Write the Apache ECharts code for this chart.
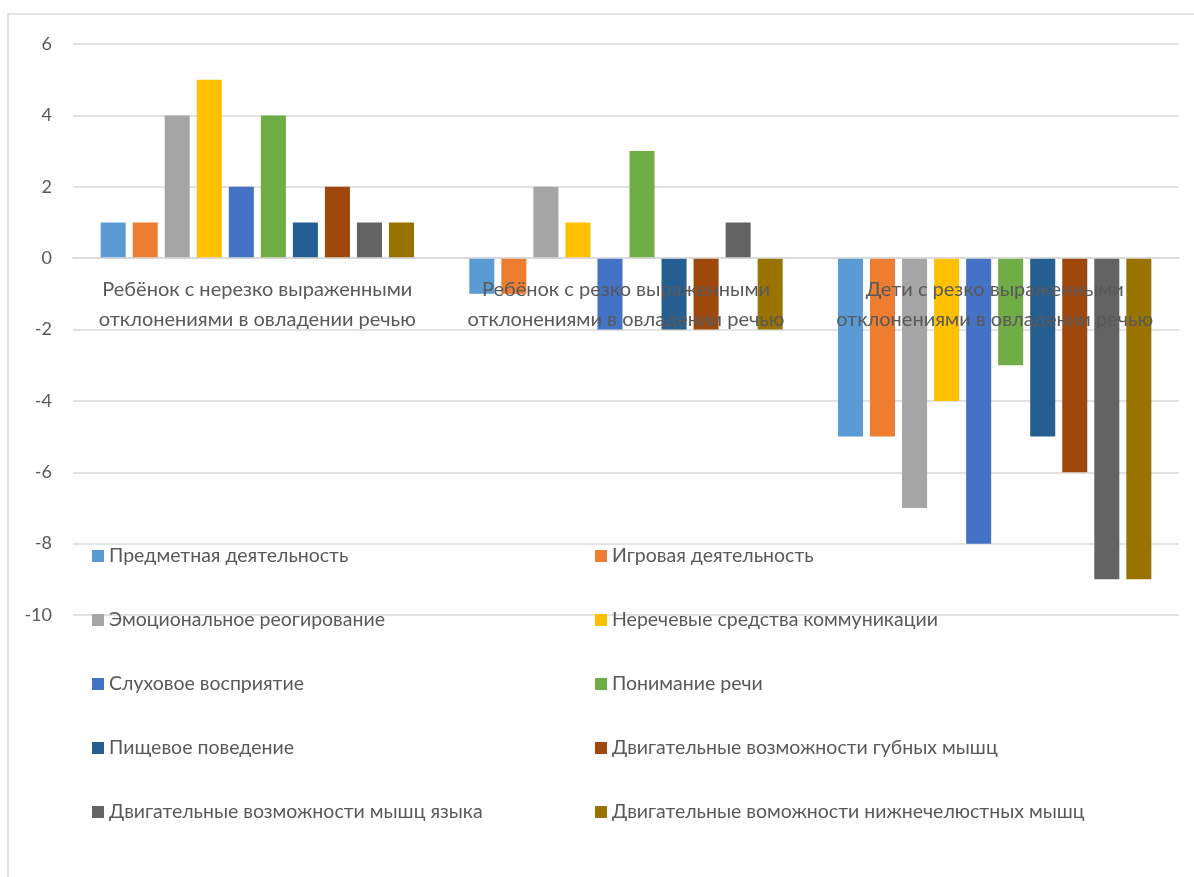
<!DOCTYPE html>
<html>
<head>
<meta charset="utf-8">
<script src="https://cdn.jsdelivr.net/npm/echarts@6/dist/echarts.min.js"></script>
<style>
  html, body { margin: 0; padding: 0; background: #fff; }
  #chart { width: 1194px; height: 877px; }
</style>
</head>
<body>
<div id="chart"></div>
<script>
const categories = [
  'Ребёнок с нерезко выраженными\nотклонениями в овладении речью',
  'Ребёнок с резко выраженными\nотклонениями в овладении речью',
  'Дети с резко выраженными\nотклонениями в овладении речью'
]

const seriesNames = [
  'Предметная деятельность',
  'Игровая деятельность',
  'Эмоциональное реогирование',
  'Неречевые средства коммуникации',
  'Слуховое восприятие',
  'Понимание речи',
  'Пищевое поведение',
  'Двигательные возможности губных мышц',
  'Двигательные возможности мышц языка',
  'Двигательные воможности нижнечелюстных мышц'
]

const predmetnaya = [1, -1, -5]
const igrovaya = [1, -1, -5]
const emocionalnoe = [4, 2, -7]
const nerechevye = [5, 1, -4]
const sluhovoe = [2, -2, -8]
const ponimanie = [4, 3, -3]
const pishchevoe = [1, -2, -5]
const gubnye = [2, -2, -6]
const yazyk = [1, 1, -9]
const nizhnechelyust = [1, -2, -9]

const seriesValues = [predmetnaya, igrovaya, emocionalnoe, nerechevye, sluhovoe,
  ponimanie, pishchevoe, gubnye, yazyk, nizhnechelyust]

const colors = ['#5B9BD5', '#ED7D31', '#A5A5A5', '#FFC000', '#4472C4',
  '#70AD47', '#255E91', '#9E480E', '#636363', '#997300']

const font = 'Lato'
const textColor = '#595959'

const chart = echarts.init(document.getElementById('chart'), null, { renderer: 'canvas' })

const legendCommon = {
  orient: 'vertical',
  top: 541,
  itemWidth: 12,
  itemHeight: 12,
  itemGap: 44,
  icon: 'rect',
  textStyle: { fontFamily: font, fontSize: 19.5, color: textColor, lineHeight: 20 }
}

chart.setOption({
  animation: false,
  color: colors,
  graphic: [{
    type: 'rect',
    shape: { x: 8, y: 14, width: 1300, height: 1000 },
    style: { fill: 'none', stroke: '#d9d9d9', lineWidth: 1.5 },
    silent: true
  }],
  grid: { left: 73, right: 15, top: 44, bottom: 262 },
  legend: [
    { ...legendCommon, left: 87, data: seriesNames.filter((_, i) => i % 2 === 0) },
    { ...legendCommon, left: 590, data: seriesNames.filter((_, i) => i % 2 === 1) }
  ],
  xAxis: {
    type: 'category',
    data: categories,
    z: 3,
    axisLine: { onZero: true, lineStyle: { color: '#d9d9d9', width: 1.5 } },
    axisTick: { show: false },
    axisLabel: {
      // labels sit just under the zero line, as in the original
      margin: -340,
      fontFamily: font,
      fontSize: 20,
      lineHeight: 30,
      color: textColor,
      interval: 0
    }
  },
  yAxis: {
    type: 'value',
    min: -10,
    max: 6,
    interval: 2,
    axisLine: { show: false },
    axisTick: { show: false },
    axisLabel: { margin: 21, fontFamily: font, fontSize: 18, color: textColor },
    splitLine: { lineStyle: { color: '#d9d9d9', width: 1.5 } }
  },
  series: seriesNames.map((name, i) => ({
    name,
    type: 'bar',
    data: seriesValues[i],
    barGap: '28%',
    barCategoryGap: '15%'
  }))
})
</script>
</body>
</html>
